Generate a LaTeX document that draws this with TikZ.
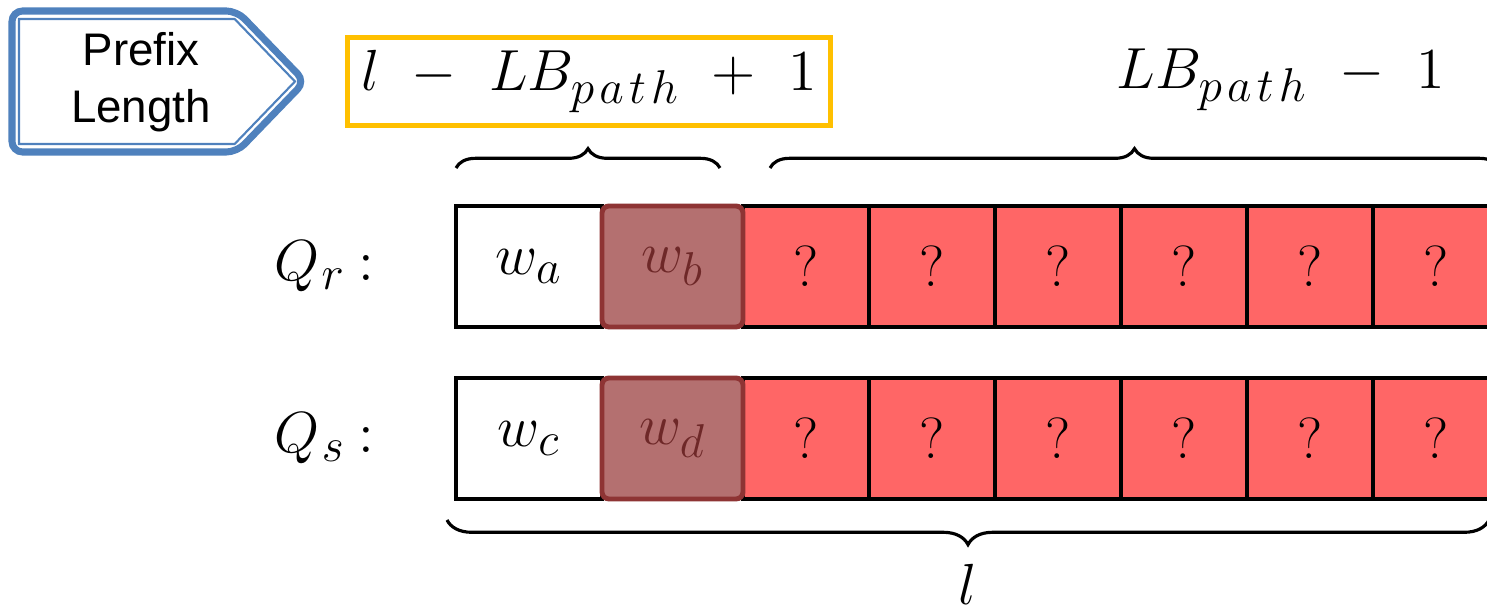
\RequirePackage{fix-cm}
\documentclass[tikz,border=0pt]{standalone}
\usepackage{fontspec}
\newfontfamily\arialfont{Liberation Sans}
\usepackage{tikz}
\usetikzlibrary{shapes.symbols, positioning, decorations.pathreplacing}
\definecolor{pfblue}{RGB}{79, 129, 189}
\definecolor{lbyellow}{RGB}{255, 192, 0}
\definecolor{qred}{RGB}{255, 102, 102}
\definecolor{hitfill}{RGB}{180, 112, 112}
\definecolor{hitdraw}{RGB}{142, 52, 52}
\definecolor{hittext}{RGB}{110, 40, 40}
\DeclareMathSizes{16.5}{16.5}{13.5}{10}
\newcommand{\bigmath}{\fontsize{16.5}{19}\selectfont\medmuskip=10mu}
\newcommand{\pth}{p\mkern2mu a\mkern2mu t\mkern2mu h}

\begin{document}
\begin{tikzpicture}[
    cell/.style={rectangle, draw=black, line width=1.4pt, minimum height=1.21cm,
                 inner sep=0pt, outer sep=0pt, font=\bigmath},
    known/.style={cell, fill=white, minimum width=1.46cm},
    hit/.style={cell, fill=hitfill, draw=hitdraw, text=hittext,
                rounded corners=2pt, minimum width=1.41cm},
    unk/.style={cell, fill=qred, minimum width=1.26cm},
    sizebox/.style={rectangle, draw=lbyellow, line width=1.2pt,
                    minimum width=4.83cm, minimum height=0.88cm, font=\bigmath},
    tag/.style={signal, signal to=east, draw=pfblue, outer sep=0pt,
                anchor=west, signal pointer angle=92},
    brc/.style={decorate, decoration={brace, amplitude=#1}, line width=0.9pt},
    brc/.default=5.5pt
]
\useasboundingbox (0,0) rectangle (14.87,-6.13);

% prefix tag
\node[tag, line width=2pt, rounded corners=3pt, minimum width=2.93cm,
      minimum height=1.41cm] (tagout) at (0.12,-0.815) {};
\node[tag, line width=0.6pt, minimum width=2.76cm,
      minimum height=1.25cm] (tagin) at (0.19,-0.815) {};
\node[font=\arialfont\fontsize{13}{16.2}\selectfont, align=center]
      (pfx) at (1.41,-0.82) {Prefix\\Length};

% lengths
\node[sizebox] (lbhead) at (5.89,-0.815) {$l - LB_{\pth} + 1$};
\node[font=\bigmath] (lbtail) at (12.81,-0.80) {$LB_{\pth} - 1$};

% rows
\foreach \row/\y/\ka/\kb in {r/-2.665/a/b, s/-4.385/c/d}{
    \node[font=\bigmath, inner sep=0pt, anchor=east] (q\row) at (3.75,\y)
          {$Q_{\mkern1mu\row}\mkern4mu{:}$};
    \node[known] (\row a) at (5.29,\y) {$w_\ka$};
    \node[unk] (\row1) at (8.06,\y) {?};
    \foreach \i [count=\j from 2] in {1,...,5}
        \node[unk, right=0pt of \row\i] (\row\j) {?};
    \node[hit, right=0pt of \row a] (\row b) {$w_\kb$};
}

% braces
\draw[brc] ([yshift=0.38cm]ra.north west)
        -- ([xshift=-0.23cm, yshift=0.38cm]rb.north east);
\draw[brc] ([xshift=0.27cm, yshift=0.38cm]r1.north west)
        -- ([yshift=0.38cm]r6.north east);
\draw[brc=7pt] ([xshift=-0.10cm, yshift=-0.21cm]s6.south east)
        -- ([xshift=-0.09cm, yshift=-0.21cm]sa.south west);
\node[font=\bigmath] (len) at (9.68,-5.84) {$l$};
\end{tikzpicture}
\end{document}
